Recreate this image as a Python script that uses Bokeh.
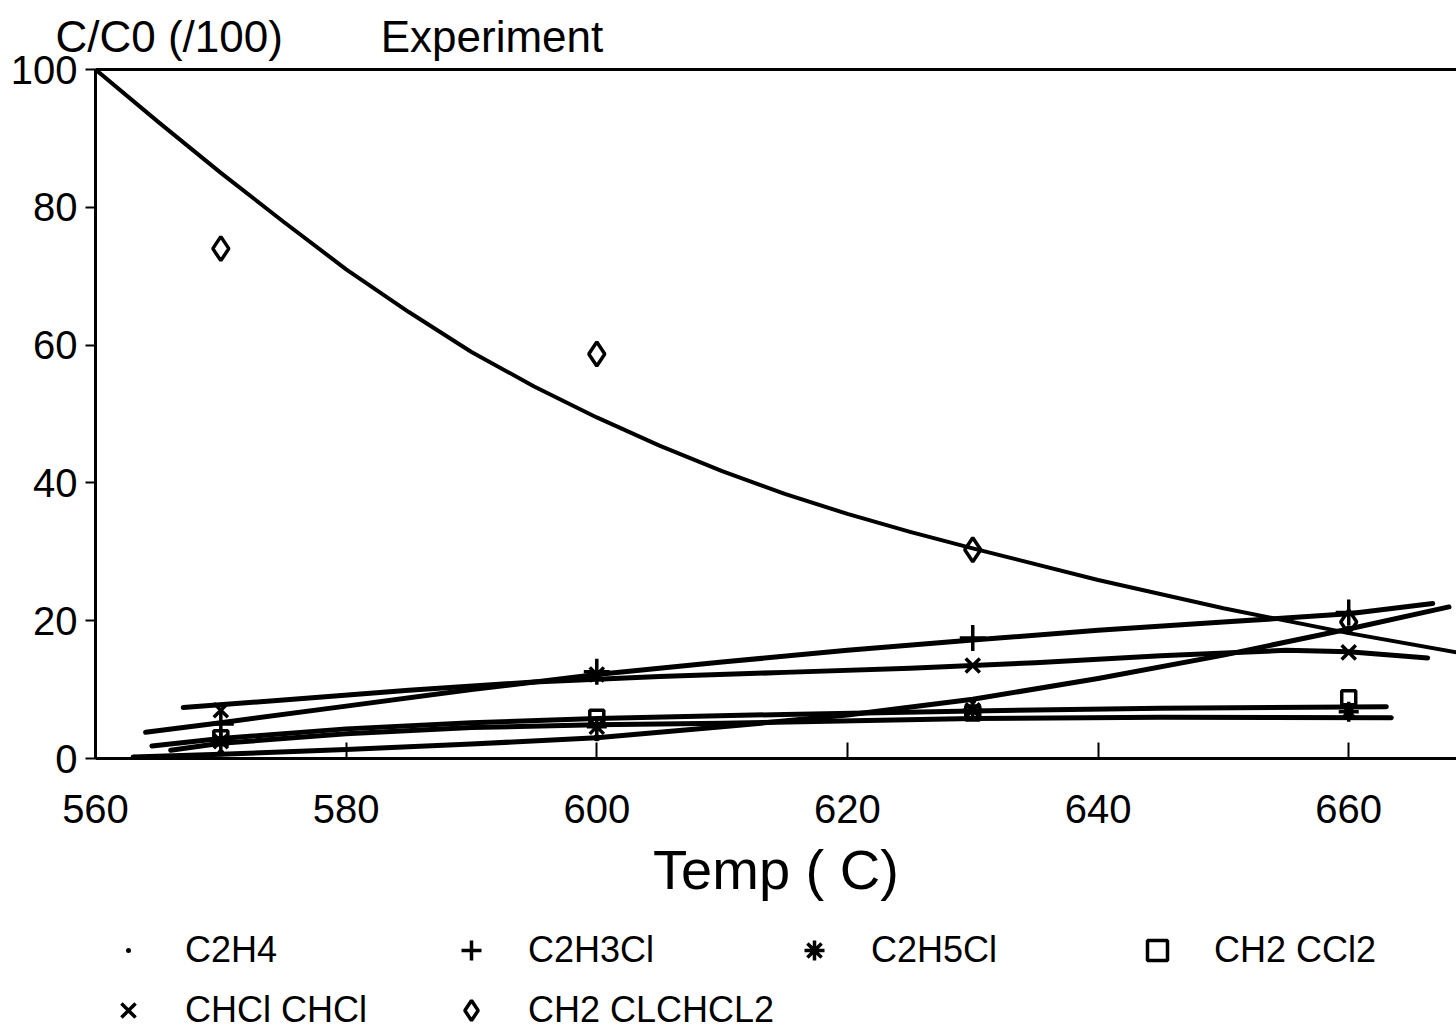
from bokeh.plotting import figure
from bokeh.layouts import column
from bokeh.models import Range1d, LinearAxis, Legend, LegendItem, FixedTicker
from bokeh.embed import file_html
from bokeh.resources import INLINE

FONT = "Liberation Sans"

# Measured temperatures (C) and concentrations C/C0 (x100)
temps = [570, 600, 630, 660]
c2h4 = [0.8, 3.0, 8.4, 18.8]
c2h3cl = [5.0, 12.6, 17.5, 21.2]
c2h5cl = [2.5, 4.6, 7.0, 6.8]
ch2ccl2 = [3.0, 6.0, 6.6, 8.8]
chclchcl = [7.0, 12.2, 13.5, 15.4]
ch2clchcl2 = [74.0, 58.7, 30.3, 19.8]

# Fitted model curves
fit_ch2clchcl2_t = [560, 565, 570, 575, 580, 585, 590, 595, 600, 605, 610, 615, 620, 625, 630, 640, 650, 660, 668.6]
fit_ch2clchcl2 = [100, 92.4, 85.0, 77.9, 71.0, 64.8, 59.0, 54.0, 49.5, 45.4, 41.7, 38.4, 35.5, 32.9, 30.5, 25.9, 21.8, 18.2, 15.4]

fit_chclchcl_t = [567, 575, 585, 595, 605, 615, 625, 635, 645, 655, 660, 666.3]
fit_chclchcl = [7.4, 8.5, 9.9, 11.1, 11.9, 12.5, 13.1, 13.9, 14.9, 15.7, 15.5, 14.6]

fit_c2h3cl_t = [564, 570, 580, 590, 600, 610, 620, 630, 640, 650, 660, 666.7]
fit_c2h3cl = [3.8, 5.2, 7.6, 10.0, 12.2, 14.0, 15.7, 17.2, 18.6, 19.8, 21.0, 22.5]

fit_c2h4_t = [563, 570, 580, 590, 600, 610, 620, 630, 640, 650, 660, 668]
fit_c2h4 = [0.2, 0.6, 1.3, 2.1, 3.0, 4.6, 6.3, 8.6, 11.6, 15.0, 18.8, 22.0]

fit_ch2ccl2_t = [564.5, 570, 580, 590, 600, 615, 630, 645, 663]
fit_ch2ccl2 = [1.8, 2.9, 4.3, 5.2, 5.8, 6.4, 6.9, 7.3, 7.5]

fit_c2h5cl_t = [566, 570, 580, 590, 600, 610, 630, 645, 663.4]
fit_c2h5cl = [1.2, 2.2, 3.6, 4.5, 4.9, 5.1, 5.8, 6.0, 5.9]

x_ticks = [560, 580, 600, 620, 640, 660]
y_ticks = [0, 20, 40, 60, 80, 100]

species = ["C2H4", "C2H3Cl", "C2H5Cl", "CH2 CCl2", "CHCl CHCl", "CH2 CLCHCL2"]

p = figure(width=1456, height=920, output_backend="svg", toolbar_location=None,
           x_range=Range1d(560, 668.6), y_range=Range1d(0, 100),
           min_border_left=95, min_border_right=0, min_border_top=68,
           min_border_bottom=162)
p.grid.visible = False
p.outline_line_color = None
p.background_fill_color = "white"
p.border_fill_color = "white"

p.title.text = "C/C0 (/100)\u00a0\u00a0\u00a0\u00a0\u00a0\u00a0\u00a0\u00a0Experiment"
p.title.align = "left"
p.title.offset = -40
p.title.standoff = 18
p.title.text_font = FONT
p.title.text_font_size = "44px"
p.title.text_font_style = "normal"
p.title.text_color = "black"

xa = p.xaxis[0]
xa.ticker = FixedTicker(ticks=x_ticks)
xa.axis_line_width = 3
xa.major_tick_in = 16
xa.major_tick_out = 0
xa.major_tick_line_width = 2
xa.minor_tick_line_color = None
xa.major_label_text_font = FONT
xa.major_label_text_font_size = "40px"
xa.major_label_text_color = "black"
xa.major_label_standoff = 36
xa.axis_label = "Temp ( C)"
xa.axis_label_text_font = FONT
xa.axis_label_text_font_size = "56px"
xa.axis_label_text_font_style = "normal"
xa.axis_label_text_color = "black"
xa.axis_label_standoff = 12

ya = p.yaxis[0]
ya.ticker = FixedTicker(ticks=y_ticks)
ya.axis_line_width = 3
ya.major_tick_in = 0
ya.major_tick_out = 10
ya.major_tick_line_width = 2
ya.minor_tick_line_color = None
ya.major_label_text_font = FONT
ya.major_label_text_font_size = "40px"
ya.major_label_text_color = "black"
ya.major_label_standoff = 8

top = LinearAxis(ticker=FixedTicker(ticks=[]), axis_line_width=3,
                 major_tick_line_color=None, minor_tick_line_color=None,
                 major_label_text_font_size="0px")
p.add_layout(top, "above")

line_kw = dict(line_color="black", line_width=5, line_join="round", line_cap="round")
p.line(fit_ch2clchcl2_t, fit_ch2clchcl2, **dict(line_kw, line_width=4))
p.line(fit_chclchcl_t, fit_chclchcl, **line_kw)
p.line(fit_c2h3cl_t, fit_c2h3cl, **line_kw)
p.line(fit_c2h4_t, fit_c2h4, **line_kw)
p.line(fit_ch2ccl2_t, fit_ch2ccl2, **line_kw)
p.line(fit_c2h5cl_t, fit_c2h5cl, **line_kw)

# marker style per species: (marker, size, filled)
styles = [("dot", 28, True), ("cross", 26, False), ("asterisk", 20, False),
          ("square", 14, False), ("x", 20, False), ("diamond", 24, False)]
series = [c2h4, c2h3cl, c2h5cl, ch2ccl2, chclchcl, ch2clchcl2]

for (marker, size, filled), vals in zip(styles, series):
    p.scatter(temps, vals, marker=marker, size=size, line_color="black",
              fill_color="black" if filled else None, line_width=3.5)

# Key panel under the chart (frame aligned with the chart's frame)
k = figure(width=1456, height=112, output_backend="svg", toolbar_location=None,
           x_range=Range1d(0, 1), y_range=Range1d(0, 1),
           min_border_left=0, min_border_right=0, min_border_top=0, min_border_bottom=0)
k.axis.visible = False
k.grid.visible = False
k.outline_line_color = None
k.background_fill_color = "white"
k.border_fill_color = "white"

nan = float("nan")
items = []
for (marker, size, filled), name in zip(styles, species):
    r = k.scatter([nan], [nan], marker=marker, line_color="black",
                  fill_color="black" if filled else None, line_width=3.5)
    items.append(LegendItem(label=name, renderers=[r]))

legend = Legend(items=items, location=(8, -3), orientation="horizontal", ncols=4,
                glyph_width=50, glyph_height=50, label_height=50, label_width=251,
                label_standoff=32, spacing=10, padding=0, margin=0,
                border_line_color=None, background_fill_alpha=0,
                label_text_font=FONT, label_text_font_size="36px", label_text_color="black")
k.add_layout(legend, "center")

open("out.html", "w").write(file_html(column(p, k), INLINE))
